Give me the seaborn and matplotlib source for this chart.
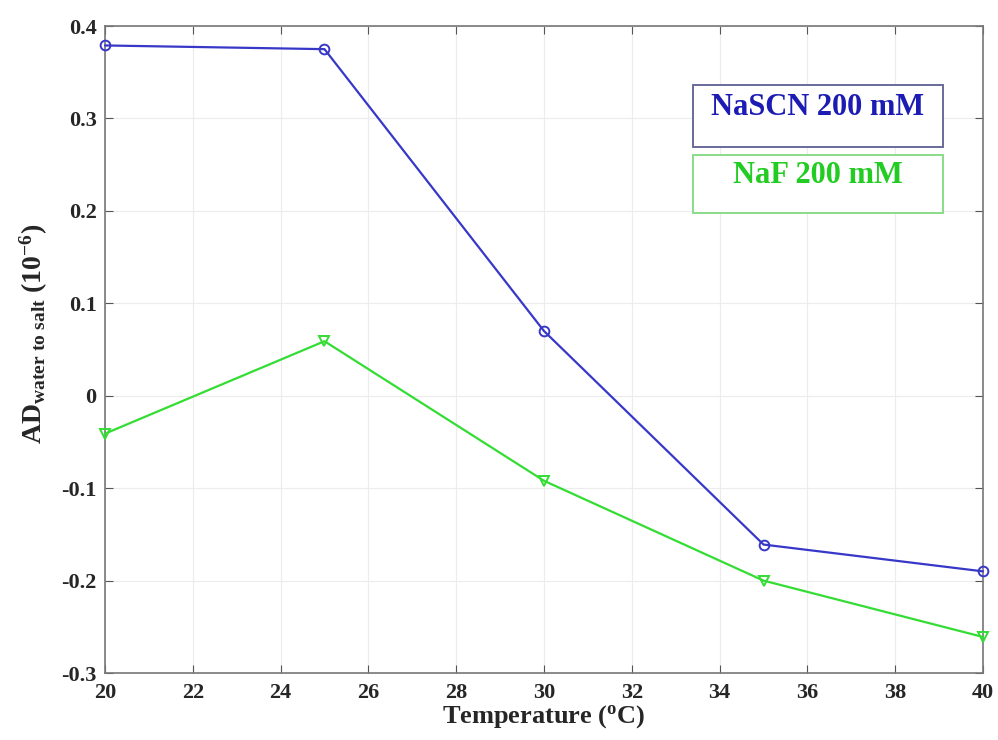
import numpy as np
import pandas as pd
import matplotlib
matplotlib.use("Agg")
import matplotlib.pyplot as plt
from matplotlib.patches import Rectangle
import seaborn as sns

# Data
temperature = [20, 25, 30, 35, 40]
nascn = [0.379, 0.375, 0.070, -0.161, -0.190]
naf = [-0.041, 0.059, -0.092, -0.200, -0.261]
series_names = ["NaSCN 200 mM", "NaF 200 mM"]

df = pd.DataFrame({
    "temperature": temperature * 2,
    "ad": nascn + naf,
    "salt": [series_names[0]] * 5 + [series_names[1]] * 5,
})

sns.set_style("whitegrid")
plt.rcParams['font.family'] = ['Liberation Serif', 'DejaVu Serif']
plt.rcParams['font.weight'] = 'bold'
plt.rcParams['mathtext.fontset'] = 'custom'
plt.rcParams['mathtext.rm'] = 'Liberation Serif:bold'
plt.rcParams['mathtext.it'] = 'Liberation Serif:bold'
plt.rcParams['mathtext.bf'] = 'Liberation Serif:bold'

blue = "#3838c8"
green = "#33dd33"

fig = plt.figure(figsize=(9.98, 7.4), dpi=100)
ax = fig.add_axes([0.1052, 0.0905, 0.8798, 0.8743])

sns.lineplot(data=df, x="temperature", y="ad", hue="salt", style="salt",
             palette={series_names[0]: blue, series_names[1]: green},
             markers={series_names[0]: "o", series_names[1]: "v"},
             dashes=False, markersize=7, linewidth=1.6, legend=False, ax=ax)

for line, c in zip(ax.lines, [blue, green]):
    line.set_markeredgecolor(c)
    line.set_markerfacecolor("none")
    line.set_markeredgewidth(1.4)
    line.set_clip_on(False)
    line.set_zorder(5)

ax.set_xlim(20, 40)
ax.set_ylim(-0.3, 0.4)
ax.set_xticks(np.arange(20, 41, 2))
ax.set_yticks(np.round(np.arange(-0.3, 0.41, 0.1), 1))
ax.set_yticklabels(["-0.3", "-0.2", "-0.1", "0", "0.1", "0.2", "0.3", "0.4"])
ax.tick_params(labelsize=16, direction="in", length=6, color="#555555",
               left=True, bottom=True, right=True, top=True)
ax.tick_params(axis="x", pad=7)
ax.tick_params(axis="y", pad=6)
for lab in ax.get_xticklabels() + ax.get_yticklabels():
    lab.set_fontweight("bold")
ax.grid(True, color="#ececec", linewidth=0.8)
for s in ax.spines.values():
    s.set_color("#777777")
    s.set_linewidth(1.2)

ax.set_xlabel("Temperature ($\\mathregular{^o}$C)", fontsize=19, fontweight="bold", labelpad=0)
ax.set_ylabel("AD$_{\\mathregular{water\\ to\\ salt}}$ (10$^{\\mathregular{-6}}$)", fontsize=20,
              fontweight="bold")
ax.yaxis.set_label_coords(-0.063, 0.524)

# Two separate legend boxes, MATLAB-style annotations
fig.patches.append(Rectangle((0.694, 0.801), 0.251, 0.084, transform=fig.transFigure,
                             facecolor="white", edgecolor="#6a6a9a", linewidth=1.4))
fig.text(0.8195, 0.8446, series_names[0], color="#1c1cb4", fontsize=22,
         fontweight="bold", ha="center", va="baseline")
fig.patches.append(Rectangle((0.694, 0.712), 0.251, 0.078, transform=fig.transFigure,
                             facecolor="white", edgecolor="#88dd88", linewidth=1.4))
fig.text(0.8195, 0.7527, series_names[1], color="#22cc22", fontsize=22,
         fontweight="bold", ha="center", va="baseline")

fig.savefig("out.png", dpi=100)
